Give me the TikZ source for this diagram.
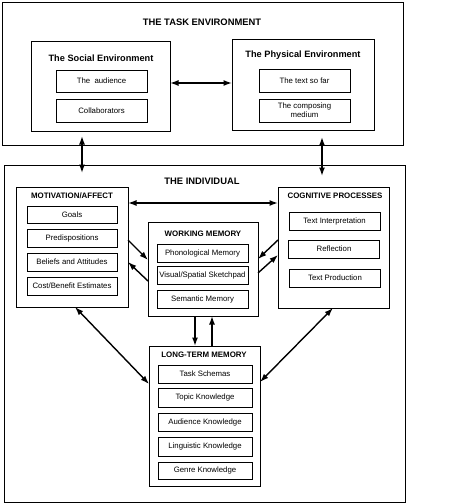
\documentclass[tikz,border=0pt]{standalone}
\usepackage{fontspec}
\setmainfont{Liberation Sans}
\usetikzlibrary{arrows.meta}
\begin{document}
\begin{tikzpicture}[x=1pt,y=-1pt,
  box/.style={draw,line width=0.85pt,inner sep=0pt,outer sep=0pt},
  outer/.style={draw,line width=0.9pt,inner sep=0pt,outer sep=0pt},
  item/.style={draw,line width=0.85pt,inner sep=0pt,outer sep=0pt,font=\fontsize{7.8}{8.5}\selectfont,align=center},
  ttl/.style={font=\bfseries\fontsize{9.4}{10}\selectfont,inner sep=0pt},
  sttl/.style={font=\bfseries\fontsize{7.9}{8}\selectfont,inner sep=0pt},
  arr/.style={line width=1.4pt,-{Latex[length=8.5pt,width=6pt]}},
  dbl/.style={line width=1.4pt,{Latex[length=8.5pt,width=6pt]}-{Latex[length=8.5pt,width=6pt]}}]
\useasboundingbox (0,0) rectangle (453,503);
% Task environment
\node[outer,minimum width=401,minimum height=143] (task) at (202.5,73.5) {};
\node[ttl] (tasklbl) at (202,22) {THE TASK ENVIRONMENT};
\node[box,minimum width=139,minimum height=90] (social) at (100.5,86) {};
\node[ttl,font=\bfseries\fontsize{9.2}{10}\selectfont] (sociallbl) at (101,58) {The Social Environment};
\node[item,minimum width=91,minimum height=22] (audience) at (101.5,81) {The\ \ audience};
\node[item,minimum width=91,minimum height=23] (collab) at (101.5,110.5) {Collaborators};
\node[box,minimum width=142,minimum height=91] (physical) at (303,84.5) {};
\node[ttl,font=\bfseries\fontsize{9.2}{10}\selectfont] (physlbl) at (303,55) {The Physical Environment};
\node[item,minimum width=91,minimum height=23] (textsofar) at (304.5,80.5) {The text so far};
\node[item,minimum width=91,minimum height=23] (medium) at (304.5,110.5) {The composing\\[0.8pt]medium};
% Individual
\node[outer,minimum width=401,minimum height=337] (indiv) at (204.5,333.5) {};
\node[ttl] (indivlbl) at (202,181) {THE INDIVIDUAL};
\node[box,minimum width=112,minimum height=120] (motiv) at (72,247) {};
\node[sttl] (motivlbl) at (72,196) {MOTIVATION/AFFECT};
\node[item,minimum width=90,minimum height=17] (goals) at (72,214.5) {Goals};
\node[item,minimum width=90,minimum height=18] (predisp) at (72,238) {Predispositions};
\node[item,minimum width=90,minimum height=18] (beliefs) at (72,262) {Beliefs and Attitudes};
\node[item,minimum width=90,minimum height=18] (cost) at (72,286) {Cost/Benefit Estimates};
\node[box,minimum width=110,minimum height=94] (wm) at (203,269) {};
\node[sttl] (wmlbl) at (203,234) {WORKING MEMORY};
\node[item,minimum width=91,minimum height=18] (phon) at (202.5,253) {Phonological Memory};
\node[item,minimum width=91,minimum height=18] (visual) at (202.5,275.5) {Visual/Spatial Sketchpad};
\node[item,minimum width=91,minimum height=18] (semantic) at (202.5,299) {Semantic Memory};
\node[box,minimum width=111,minimum height=121] (cog) at (333.5,247.5) {};
\node[sttl] (coglbl) at (335,196) {COGNITIVE PROCESSES};
\node[item,minimum width=91,minimum height=18] (interp) at (334.5,221) {Text Interpretation};
\node[item,minimum width=91,minimum height=18] (reflect) at (334,249) {Reflection};
\node[item,minimum width=91,minimum height=18] (prod) at (335,278) {Text Production};
\node[box,minimum width=111,minimum height=140] (ltm) at (204.5,416) {};
\node[sttl] (ltmlbl) at (204,355) {LONG-TERM MEMORY};
\node[item,minimum width=94,minimum height=18] (schemas) at (205,374) {Task Schemas};
\node[item,minimum width=94,minimum height=19] (topic) at (205,397.5) {Topic Knowledge};
\node[item,minimum width=94,minimum height=18] (audk) at (205,422) {Audience Knowledge};
\node[item,minimum width=94,minimum height=19] (ling) at (205,446.5) {Linguistic Knowledge};
\node[item,minimum width=94,minimum height=17] (genre) at (205,470.5) {Genre Knowledge};
% connectors
\draw[dbl] (social.east |- 0,83) -- (physical.west |- 0,83);
\coordinate (t1) at (82,136); \coordinate (i1) at (82,173);
\coordinate (t2) at (322,137); \coordinate (i2) at (322,176);
\draw[dbl] (t1) -- (i1);
\draw[dbl] (t2) -- (i2);
\draw[dbl] (motiv.east |- 0,203) -- (cog.west |- 0,203);
\draw[arr] (motiv.east |- 0,240) -- (wm.west |- 0,260);
\draw[arr] (wm.west |- 0,281) -- (motiv.east |- 0,262);
\draw[arr] (cog.west |- 0,240) -- (wm.east |- 0,259);
\draw[arr] (wm.east |- 0,273) -- (cog.west |- 0,255);
\draw[arr] (wm.south -| 195,0) -- (ltm.north -| 195,0);
\draw[arr] (ltm.north -| 212,0) -- (wm.south -| 212,0);
\draw[dbl] (motiv.south -| 75,0) -- (ltm.west |- 0,384);
\draw[dbl] (ltm.east |- 0,382) -- (cog.south -| 333,0);
\end{tikzpicture}
\end{document}
